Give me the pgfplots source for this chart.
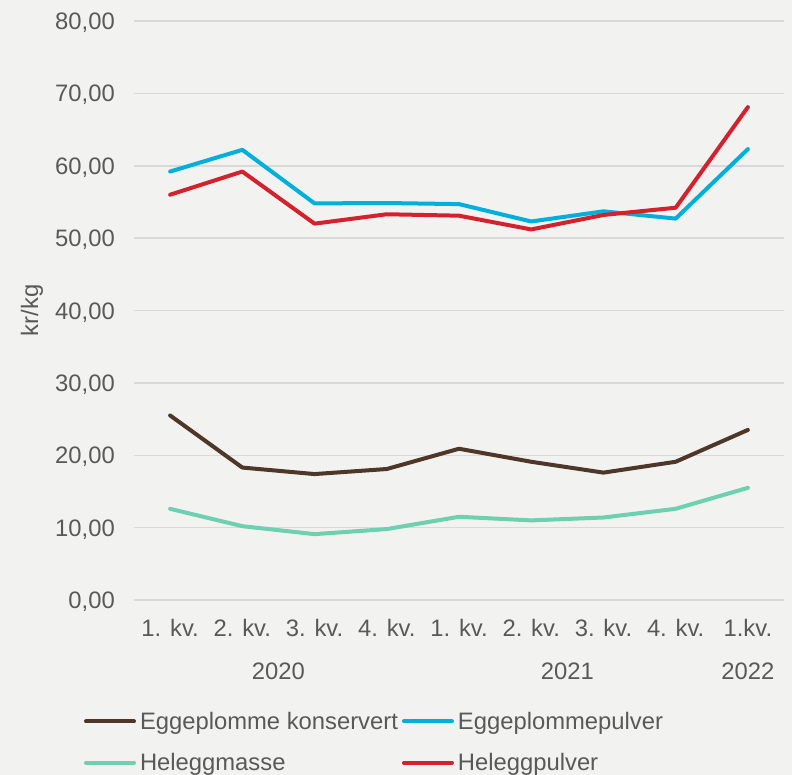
\documentclass[border=0pt]{standalone}
\usepackage{pgfplots}
\pgfplotsset{compat=1.18}
\usepackage{fontspec}
\setmainfont{Liberation Sans}
\definecolor{bg}{HTML}{F2F2F0}
\definecolor{gridc}{HTML}{D9D9D9}
\definecolor{txt}{HTML}{595959}
\definecolor{cbrown}{HTML}{4E3629}
\definecolor{cblue}{HTML}{00B0DA}
\definecolor{cteal}{HTML}{6DD0B0}
\definecolor{cred}{HTML}{D3222E}
\newcommand{\lblfont}{\fontsize{23.8}{28}\selectfont}
\begin{document}
\begin{tikzpicture}
\path[use as bounding box, fill=bg] (0pt,0pt) rectangle (792pt,-775pt);
\begin{axis}[
  at={(134pt,-600pt)}, anchor=south west,
  width=650pt, height=579pt, scale only axis,
  xmin=-0.5, xmax=8.5, ymin=0, ymax=80,
  ytick={0,10,...,80},
  xtick={0,...,8},
  xticklabels={1. kv.,2. kv.,3. kv.,4. kv.,1. kv.,2. kv.,3. kv.,4. kv.,1.kv.},
  ymajorgrids, grid style={gridc, line width=1.5pt},
  axis line style={draw=none},
  major tick length=0pt,
  clip=false,
  font=\lblfont,
  every tick label/.append style={text=txt, font=\lblfont},
  yticklabel style={anchor=base east, inner sep=0pt, xshift=-19pt, yshift=-8.5pt,
    /pgf/number format/.cd, fixed, fixed zerofill, precision=2, use comma, assume math mode=true},
  xticklabel style={anchor=base, inner sep=0pt, yshift=-36pt},
  ylabel={kr/kg},
  ylabel style={at={(axis description cs:0,0.5)}, anchor=center, yshift=102pt, text=txt, inner sep=0pt, font=\lblfont},
  every axis plot/.append style={line width=4pt, line join=round, line cap=round},
  legend columns=2, legend cell align=left,
  legend style={draw=none, fill=none, at={(axis description cs:0,0)}, anchor=north west,
    xshift=-50pt, yshift=-112pt, inner sep=0pt, outer sep=0pt, row sep=22.5pt, column sep=0pt,
    nodes={inner xsep=4pt, inner ysep=0pt, text=txt, font=\lblfont},
    /tikz/every even column/.append style={column sep=0pt}},
  legend image code/.code={\draw[#1] (2pt,0pt) -- (50pt,0pt);},
]
\addplot[cbrown] coordinates {(0,25.5) (1,18.3) (2,17.4) (3,18.1) (4,20.9) (5,19.1) (6,17.6) (7,19.1) (8,23.5)};
\addlegendentry{Eggeplomme konservert}
\addplot[cblue] coordinates {(0,59.2) (1,62.2) (2,54.8) (3,54.85) (4,54.7) (5,52.3) (6,53.7) (7,52.7) (8,62.3)};
\addlegendentry{Eggeplommepulver}
\addplot[cteal] coordinates {(0,12.6) (1,10.2) (2,9.1) (3,9.8) (4,11.5) (5,11.0) (6,11.4) (7,12.6) (8,15.5)};
\addlegendentry{Heleggmasse}
\addplot[cred] coordinates {(0,56.0) (1,59.2) (2,52.0) (3,53.3) (4,53.1) (5,51.2) (6,53.2) (7,54.2) (8,68.1)};
\addlegendentry{Heleggpulver}
\node[anchor=base, text=txt, font=\lblfont, inner sep=0pt] at (axis cs:1.5,0) [yshift=-79pt] {2020};
\node[anchor=base, text=txt, font=\lblfont, inner sep=0pt] at (axis cs:5.5,0) [yshift=-79pt] {2021};
\node[anchor=base, text=txt, font=\lblfont, inner sep=0pt] at (axis cs:8,0) [yshift=-79pt] {2022};
\end{axis}
\end{tikzpicture}
\end{document}
